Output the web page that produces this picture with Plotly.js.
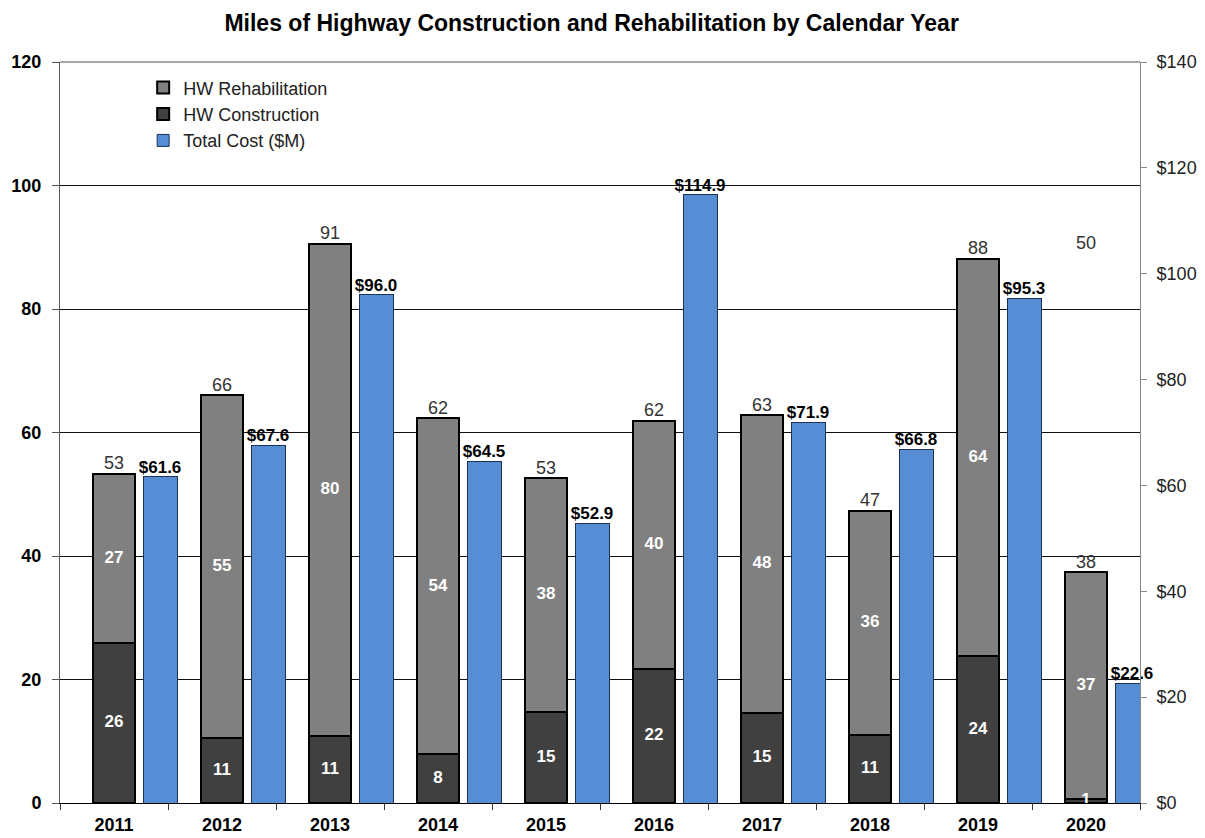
<!DOCTYPE html>
<html>
<head>
<meta charset="utf-8">
<script src="https://cdn.plot.ly/plotly-3.0.1.min.js"></script>
<style>body{margin:0;background:#fff}#chart{width:1205px;height:838px}</style>
</head>
<body>
<div id="chart"></div>
<script>
const years = [2011, 2012, 2013, 2014, 2015, 2016, 2017, 2018, 2019, 2020];
const construction = [25.9, 10.6, 10.9, 7.9, 14.7, 21.7, 14.6, 11.0, 23.8, 0.6];
const rehabilitation = [27.4, 55.4, 79.7, 54.4, 37.9, 40.2, 48.2, 36.3, 64.3, 36.8];
const totalCost = [61.6, 67.6, 96.0, 64.5, 52.9, 114.9, 71.9, 66.8, 95.3, 22.6];
const strayLabel = {year: 2020, value: 90.7, text: '50'};

const stackOffset = -0.194, stackWidth = 0.39;
const costOffset = 0.269, costWidth = 0.315;
const font = 'Liberation Sans, Arial, sans-serif';

const traces = [
  {type: 'bar', name: 'HW Construction', x: years, y: construction,
   offset: stackOffset, width: stackWidth, legendrank: 2,
   marker: {color: '#404040', line: {color: '#000', width: 2}}},
  {type: 'bar', name: 'HW Rehabilitation', x: years, y: rehabilitation,
   offset: stackOffset, width: stackWidth, legendrank: 1,
   marker: {color: '#808080', line: {color: '#000', width: 2}}},
  {type: 'bar', name: 'Total Cost ($M)', x: years, y: totalCost, yaxis: 'y2',
   offset: costOffset, width: costWidth, legendrank: 3,
   marker: {color: '#558ED5', line: {color: '#1f3050', width: 1}}},
  {type: 'scatter', mode: 'text', x: years, y: construction.map(v => v / 2),
   text: construction.map(v => String(Math.round(v))), showlegend: false, hoverinfo: 'skip', cliponaxis: false,
   textfont: {family: font, size: 17, color: '#fff', weight: 'bold'}},
  {type: 'scatter', mode: 'text', x: years, y: rehabilitation.map((v, i) => construction[i] + v / 2),
   text: rehabilitation.map(v => String(Math.round(v))), showlegend: false, hoverinfo: 'skip', cliponaxis: false,
   textfont: {family: font, size: 17, color: '#fff', weight: 'bold'}},
  {type: 'scatter', mode: 'text', x: years, y: rehabilitation.map((v, i) => construction[i] + v),
   text: rehabilitation.map((v, i) => String(Math.round(v) + Math.round(construction[i]))),
   textposition: 'top center', showlegend: false, hoverinfo: 'skip', cliponaxis: false,
   textfont: {family: font, size: 18, color: '#333'}},
  {type: 'scatter', mode: 'text', x: years.map(y => y + costOffset + costWidth / 2), y: totalCost, yaxis: 'y2',
   text: totalCost.map(v => '$' + v.toFixed(1)),
   textposition: 'top center', showlegend: false, hoverinfo: 'skip', cliponaxis: false,
   textfont: {family: font, size: 17, color: '#000', weight: 'bold'}}
];

const layout = {
  width: 1205, height: 838,
  paper_bgcolor: '#fff', plot_bgcolor: '#fff',
  margin: {l: 60, r: 65, t: 62, b: 35},
  font: {family: font, color: '#000'},
  title: {text: 'Miles of Highway Construction and Rehabilitation by Calendar Year',
          x: 0.491, xanchor: 'center', y: 0.973, yanchor: 'middle',
          font: {family: font, size: 23, color: '#000', weight: 'bold'}},
  barmode: 'stack',
  showlegend: true,
  legend: {x: 0.077, y: 0.99, xanchor: 'left', yanchor: 'top', bgcolor: 'rgba(0,0,0,0)',
           traceorder: 'normal',
           font: {family: font, size: 18, color: '#222'}, tracegroupgap: 0},
  xaxis: {range: [2010.5, 2020.5], tickvals: years, ticktext: years.map(String), ticks: '',
          ticklabelstandoff: 5,
          showline: true, linecolor: '#000', linewidth: 1, showgrid: false, zeroline: false,
          tickfont: {family: font, size: 18, color: '#000', weight: 'bold'},
          minor: {tick0: 2010.5, dtick: 1, ticks: 'outside', ticklen: 6, tickcolor: '#333', showgrid: false}},
  yaxis: {range: [0, 120], dtick: 20, ticks: 'outside', ticklen: 7, tickcolor: '#555',
          ticklabelstandoff: 7,
          showline: true, linecolor: '#555', linewidth: 1,
          showgrid: true, gridcolor: '#111', gridwidth: 1, zeroline: false,
          tickfont: {family: font, size: 18, color: '#000', weight: 'bold'}},
  yaxis2: {range: [0, 140], dtick: 20, overlaying: 'y', side: 'right', tickprefix: '$',
           ticks: 'outside', ticklen: 6, tickcolor: '#888', showline: true, linecolor: '#888',
           ticklabelstandoff: 6,
           showgrid: false, zeroline: false,
           tickfont: {family: font, size: 18, color: '#222'}},
  shapes: [{type: 'line', xref: 'paper', yref: 'paper', x0: 0, x1: 1, y0: 1, y1: 1,
            line: {color: '#888', width: 1.5}}],
  annotations: [{x: strayLabel.year, y: strayLabel.value, xref: 'x', yref: 'y', text: strayLabel.text,
                 showarrow: false, font: {family: font, size: 18, color: '#333'}}]
};

Plotly.newPlot('chart', traces, layout, {displayModeBar: false, staticPlot: true});
</script>
</body>
</html>
